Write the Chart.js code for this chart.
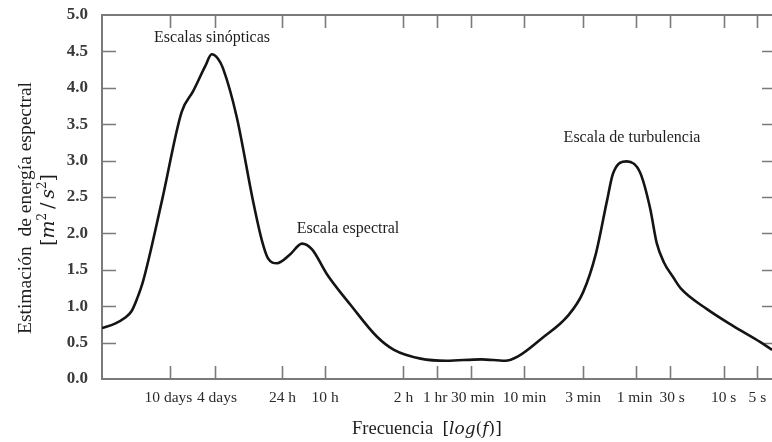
<!DOCTYPE html>
<html>
<head>
<meta charset="utf-8">
<script src="https://cdn.jsdelivr.net/npm/chart.js@4.4.1/dist/chart.umd.min.js"></script>
<style>
  html, body { margin: 0; padding: 0; background: #fff; }
  #wrap { width: 772px; height: 442px; position: relative; }
</style>
</head>
<body>
<div id="wrap"><canvas id="spectrum"></canvas></div>
<script>
// x axis: log10 of frequency (Hz); tick labels are periods
const tickPeriods = [864000, 345600, 86400, 36000, 7200, 3600, 1800, 600, 180, 60, 30, 10, 5];
const tickLabels = ["10 days", "4 days", "24 h", "10 h", "2 h", "1 hr", "30 min", "10 min", "3 min", "1 min", "30 s", "10 s", "5 s"];

// curve: log10(f) and energy [m^2/s^2]
const logFreq = [
  -6.547, -6.431, -6.342, -6.284, -6.235, -6.181, -6.012, -5.836, -5.735, -5.628,
  -5.568, -5.512, -5.468, -5.345, -5.200, -5.120, -5.067, -4.986, -4.870, -4.763,
  -4.673, -4.540, -4.325, -4.093, -3.942, -3.705, -3.473, -3.165, -2.951, -2.835,
  -2.621, -2.389, -2.255, -2.139, -2.041, -1.988, -1.865, -1.747, -1.657, -1.598,
  -1.533, -1.452, -1.381, -1.149, -0.917, -0.676, -0.569
];
const energy = [
  0.70, 0.76, 0.84, 0.93, 1.10, 1.34, 2.45, 3.67, 3.95, 4.29,
  4.46, 4.40, 4.27, 3.60, 2.45, 1.90, 1.66, 1.59, 1.71, 1.86,
  1.78, 1.44, 1.01, 0.58, 0.40, 0.28, 0.25, 0.27, 0.25, 0.31,
  0.56, 0.87, 1.19, 1.73, 2.45, 2.82, 2.99, 2.84, 2.35, 1.87,
  1.60, 1.40, 1.24, 0.96, 0.73, 0.51, 0.40
];

const yTicks = [0, 0.5, 1, 1.5, 2, 2.5, 3, 3.5, 4, 4.5, 5];

const notes = [
  { text: "Escalas sinópticas", x: -5.565, y: 4.68 },
  { text: "Escala espectral", x: -4.352, y: 2.07 },
  { text: "Escala de turbulencia", x: -1.818, y: 3.31 }
];

const serif = "'Liberation Serif', 'Times New Roman', serif";
const mathFont = "'DejaVu Serif', serif";
const tickLogF = tickPeriods.map((p) => -Math.log10(p));

// neighbouring labels that sit very close get nudged apart by a space
const nudge = { "10 days": "10 days ", "4 days": " 4 days", "1 hr": "1 hr ", "30 min": " 30 min", "1 min": "1 min ", "30 s": " 30 s" };

// draws pieces of text with different fonts one after another
function drawRuns(ctx, runs, x, y, align) {
  let total = 0;
  runs.forEach((r) => {
    ctx.font = r[1];
    total += ctx.measureText(r[0]).width;
  });
  let cx = align === "center" ? x - total / 2 : x;
  ctx.textAlign = "left";
  runs.forEach((r) => {
    ctx.font = r[1];
    ctx.fillText(r[0], cx, y + (r[2] || 0));
    cx += ctx.measureText(r[0]).width;
  });
}

const framePlugin = {
  id: "frame",
  beforeDatasetsDraw(chart) {
    const { ctx, chartArea: a, scales } = chart;
    ctx.save();
    ctx.strokeStyle = "#7a7a7a";
    ctx.lineWidth = 2;
    ctx.beginPath();
    ctx.moveTo(a.right, a.top);
    ctx.lineTo(a.left, a.top);
    ctx.lineTo(a.left, a.bottom);
    ctx.lineTo(a.right, a.bottom);
    ctx.stroke();

    // inward tick marks on all four sides
    ctx.lineWidth = 1.6;
    ctx.beginPath();
    tickLogF.forEach((v) => {
      const px = Math.round(scales.x.getPixelForValue(v)) + 0.5;
      ctx.moveTo(px, a.bottom);
      ctx.lineTo(px, a.bottom - 13);
      ctx.moveTo(px, a.top);
      ctx.lineTo(px, a.top + 13);
    });
    yTicks.slice(1, -1).forEach((v) => {
      const py = Math.round(scales.y.getPixelForValue(v)) + 0.5;
      ctx.moveTo(a.left, py);
      ctx.lineTo(a.left + 14, py);
      ctx.moveTo(a.right, py);
      ctx.lineTo(a.right - 10, py);
    });
    ctx.stroke();
    ctx.restore();
  },
  afterDraw(chart) {
    const { ctx, scales } = chart;
    ctx.save();
    ctx.fillStyle = "#1e1e1e";

    // annotations
    ctx.font = "16px " + serif;
    ctx.textAlign = "center";
    ctx.textBaseline = "middle";
    notes.forEach((n) => {
      ctx.fillText(n.text, scales.x.getPixelForValue(n.x), scales.y.getPixelForValue(n.y));
    });

    // x axis title
    ctx.textBaseline = "alphabetic";
    const up = "18.5px " + serif;
    const mu = "17px " + mathFont;
    const mi = "italic 17px " + mathFont;
    drawRuns(ctx, [["Frecuencia  ", up], ["[", mu], ["log", mi], ["(", mu], ["f", mi], [")]", mu]], 352, 434, "left");

    // y axis title, two lines rotated
    ctx.save();
    ctx.translate(31, 208);
    ctx.rotate(-Math.PI / 2);
    ctx.font = "19.5px " + serif;
    ctx.textAlign = "center";
    ctx.fillText("Estimación  de energía espectral", 0, 0);
    ctx.restore();

    ctx.save();
    ctx.translate(54, 210);
    ctx.rotate(-Math.PI / 2);
    const yu = "19px " + mathFont;
    const yi = "italic 19px " + mathFont;
    const ys = "12px " + mathFont;
    drawRuns(ctx, [["[", yu], ["m", yi], ["2", ys, -8], ["\u2009/\u2009", yu], ["s", yi], ["2", ys, -8], ["]", yu]], 0, 0, "center");
    ctx.restore();

    ctx.restore();
  }
};

new Chart(document.getElementById("spectrum"), {
  type: "line",
  data: {
    datasets: [
      {
        data: logFreq.map((x, i) => ({ x, y: energy[i] })),
        borderColor: "#141414",
        borderWidth: 2.6,
        pointRadius: 0,
        fill: false,
        cubicInterpolationMode: "monotone",
      },
    ],
  },
  options: {
    responsive: true,
    maintainAspectRatio: false,
    animation: false,
    layout: { padding: { top: 15, right: 0, left: 0, bottom: 0 } },
    plugins: {
      legend: { display: false },
      tooltip: { enabled: false },
    },
    scales: {
      x: {
        type: "linear",
        min: -6.547,
        max: -0.569,
        grid: { display: false, drawTicks: false },
        border: { display: false },
        afterBuildTicks: (scale) => {
          scale.ticks = tickLogF.map((v) => ({ value: v }));
        },
        afterFit: (scale) => {
          scale.height = 63;
          scale.paddingLeft = 0;
          scale.paddingRight = 0;
        },
        ticks: {
          autoSkip: false,
          maxRotation: 0,
          padding: 10,
          color: "#2a2a2a",
          font: { family: serif, size: 15.5 },
          callback: (v, i) => nudge[tickLabels[i]] || tickLabels[i],
        },
      },
      y: {
        min: 0,
        max: 5,
        grid: { display: false, drawTicks: false },
        border: { display: false },
        afterBuildTicks: (scale) => {
          scale.ticks = yTicks.map((v) => ({ value: v }));
        },
        afterFit: (scale) => {
          scale.width = 102;
          scale.paddingTop = 0;
          scale.paddingBottom = 0;
        },
        ticks: {
          padding: 14,
          color: "#3a3a3a",
          font: { family: serif, size: 17, weight: "bold" },
          callback: (v) => Number(v).toFixed(1),
        },
      },
    },
  },
  plugins: [framePlugin],
});
</script>
</body>
</html>
